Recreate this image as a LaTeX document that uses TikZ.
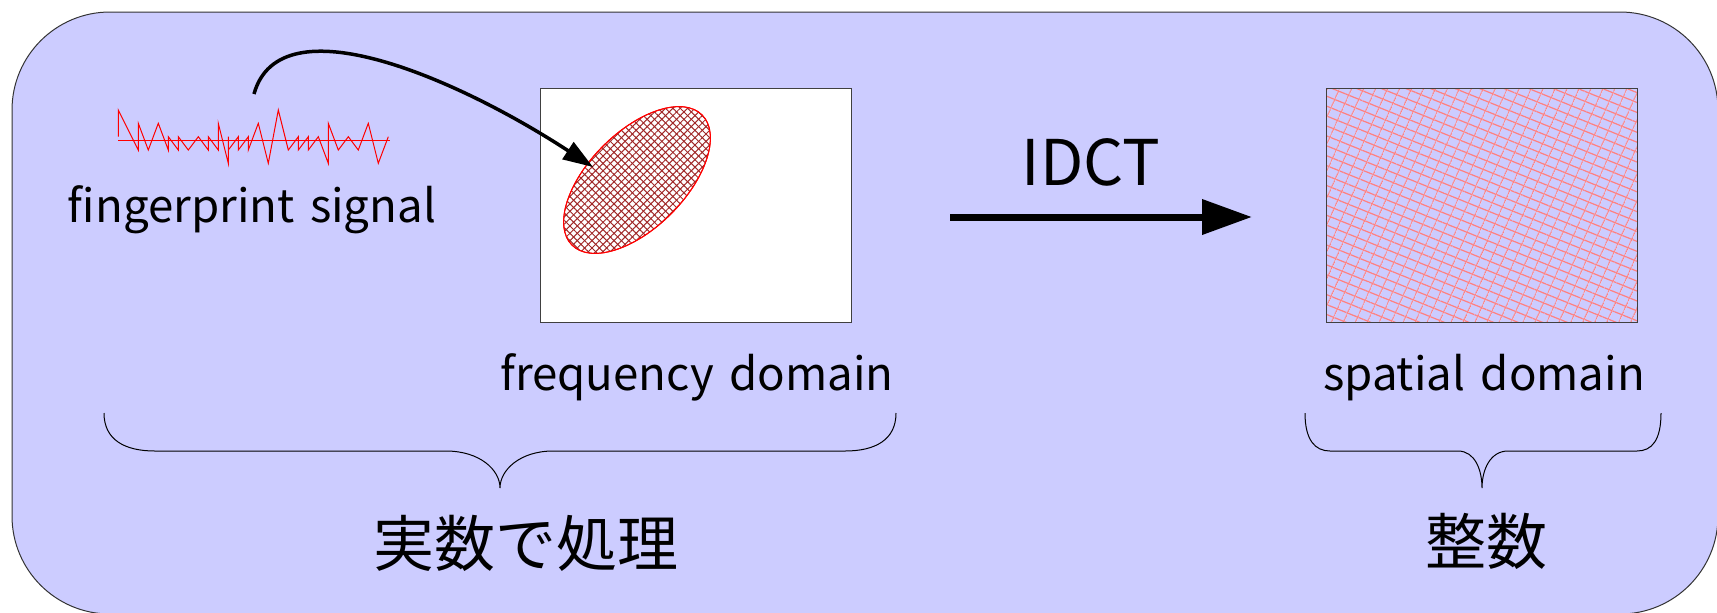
\documentclass[tikz,border=0pt]{standalone}
\usepackage{fontspec}
\setmainfont{Noto Sans CJK JP}
\usetikzlibrary{arrows.meta,shapes.geometric,patterns.meta}
\definecolor{lav}{HTML}{CCCCFF}
\definecolor{hatch}{HTML}{A02828}
\definecolor{pinkline}{HTML}{FF8080}
\tikzset{
  boxstyle/.style={draw=black!75, line width=0.5pt, minimum width=155.5pt, minimum height=117pt, inner sep=0pt},
  lbl/.style={anchor=base, inner sep=0pt, font=\fontsize{22.8}{28}\selectfont},
  jlbl/.style={anchor=base, inner sep=0pt, font=\fontsize{30.5}{36}\selectfont},
  bracestyle/.style={draw=black, line width=0.5pt},
  sig/.style={draw=red, line width=0.5pt},
}
\newcommand{\wsp}{\hspace{0.34em}}
\begin{document}
\begin{tikzpicture}[x=0.5pt,y=-0.5pt]
\useasboundingbox (0,0) rectangle (1717,612);
% background
\draw[fill=lav, draw=black!80, line width=0.5pt, rounded corners=49pt] (12,12) rectangle (1718,614);
% signal
\draw[sig] (118.3,140) -- (390,140);
\draw[sig, line join=miter] (118.3,136.7) -- (118.3,110) -- (138.3,150) -- (138.3,123.3) -- (148.3,150) -- (158.3,123.3) -- (168.3,150) -- (168.3,136.7) -- (178.3,150) -- (178.3,136.7) -- (188.3,150) -- (198.3,136.7) -- (208.3,150) -- (208.3,136.7) -- (218.3,150) -- (218.3,123.3) -- (228.3,163.3) -- (228.3,136.7) -- (228.3,150) -- (238.3,136.7) -- (238.3,150) -- (248.3,136.7) -- (248.3,150) -- (258.3,123.3) -- (268.3,163.3) -- (278.3,110) -- (288.3,150) -- (298.3,136.7) -- (298.3,150) -- (308.3,136.7) -- (308.3,150) -- (318.3,136.7) -- (328.3,163.3) -- (328.3,123.3) -- (338.3,150) -- (348.3,136.7) -- (358.3,150) -- (368.3,123.3) -- (378.3,163.3) -- (388.3,136.7);
\node[lbl] (fp) at (252,222) {fingerprint\wsp signal};
% frequency domain box
\node[boxstyle, fill=white] (freq) at (695.5,205) {};
\node[ellipse, draw=red, line width=0.5pt, fill=white, minimum width=92pt, minimum height=48pt, inner sep=0pt, rotate=45,
  postaction={pattern={Lines[angle=45,distance=2.6pt,line width=0.5pt]}, pattern color=hatch},
  postaction={pattern={Lines[angle=-45,distance=2.6pt,line width=0.5pt]}, pattern color=hatch}] (ell) at (637,180) {};
\node[ellipse, draw=red, line width=0.5pt, minimum width=92pt, minimum height=48pt, inner sep=0pt, rotate=45] (ellb) at (637,180) {};
\node[lbl] (fd) at (697,390) {frequency\wsp domain};
% curved arrow
\coordinate (cs) at (254,94);
\coordinate (ct) at (593,167);
\draw[line width=1.75pt, -{Triangle[length=15pt,width=10pt]}] (cs) .. controls (280,0) and (460,80) .. (ct);
% IDCT arrow
\coordinate (ia) at (950,217);
\coordinate (ib) at (1252,217);
\draw[line width=3.5pt, -{Triangle[length=25pt,width=17pt]}] (ia) -- (ib);
\node[anchor=base, inner sep=0pt, font=\fontsize{31.5}{36}\selectfont] (idct) at (1091,185) {IDCT};
% spatial domain box
\node[boxstyle, fill=lav,
  postaction={pattern={Lines[angle=-22,distance=4.6pt,line width=0.6pt]}, pattern color=pinkline},
  postaction={pattern={Lines[angle=66,distance=5.4pt,line width=0.6pt]}, pattern color=pinkline}] (spat) at (1482,205) {};
\node[boxstyle] (spatb) at (1482,205) {};
\node[lbl] (sd) at (1484,390) {spatial\wsp domain};
% braces
\draw[bracestyle] (104,413) .. controls (104,440) and (125,451) .. (155,451) -- (446,451) .. controls (480,451) and (500,470) .. (500,488) .. controls (500,470) and (520,451) .. (553,451) -- (845,451) .. controls (875,451) and (896,440) .. (896,413);
\draw[bracestyle] (1305,413) .. controls (1305,440) and (1315,451) .. (1330,451) -- (1458,451) .. controls (1475,451) and (1482,470) .. (1482,488) .. controls (1482,470) and (1490,451) .. (1508,451) -- (1637,451) .. controls (1652,451) and (1661,440) .. (1661,413);
\node[jlbl] (real) at (526,566) {実数で処理};
\node[jlbl] (int) at (1486,564) {整数};
\end{tikzpicture}
\end{document}
